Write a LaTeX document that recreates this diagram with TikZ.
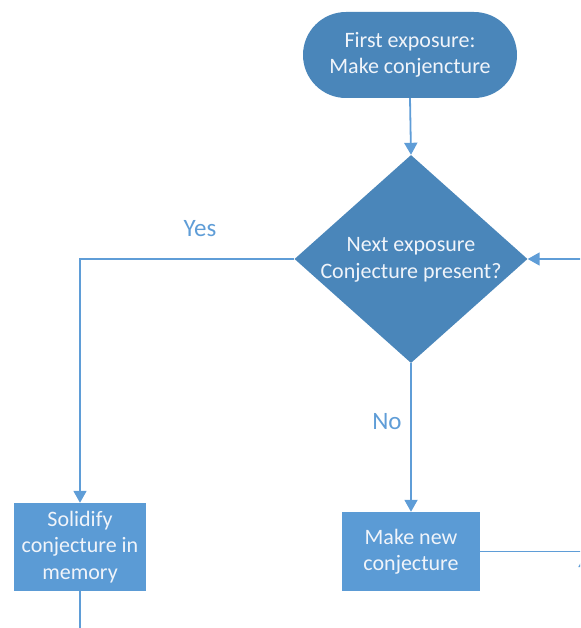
\documentclass[tikz,border=0pt]{standalone}
\usepackage{fontspec}
\setmainfont{Carlito}
\usetikzlibrary{arrows.meta,shapes.geometric}
\definecolor{darkfill}{RGB}{74,134,186}
\definecolor{lightfill}{RGB}{91,155,213}
\definecolor{linec}{RGB}{95,157,215}
\definecolor{txtc}{RGB}{240,244,250}
\begin{document}
\begin{tikzpicture}[x=1pt,y=-1pt,
  nodetext/.style={font=\fontsize{22}{26.5}\selectfont, text=txtc, align=center},
  termbox/.style={nodetext, fill=darkfill, rounded corners=43pt, minimum width=214pt, minimum height=86pt, inner sep=0pt},
  decbox/.style={shape=diamond, fill=darkfill, minimum width=233pt, minimum height=208pt, inner sep=0pt},
  procbox/.style={nodetext, fill=lightfill, inner sep=0pt},
  conn/.style={draw=linec, line width=1.8pt, -{Triangle[length=12pt,width=13pt]}},
  plain/.style={draw=linec, line width=1.8pt},
  lbl/.style={font=\fontsize{25}{29}\selectfont, text=linec}
]
\clip (0,0) rectangle (580,628);
\useasboundingbox (0,0) rectangle (580,628);

\node[termbox] (t) at (410,55) {First exposure:\\Make conjencture};
\node[decbox] (d) at (411,259) {};
\node[nodetext] (dt) at (411,260) {Next exposure\\Conjecture present?};
\node[procbox, minimum width=132pt, minimum height=88pt] (s) at (80,547) {Solidify\\conjecture in\\memory};
\node[procbox, minimum width=138pt, minimum height=79pt] (m) at (411,551.5) {Make new\\conjecture};

\coordinate (sout) at (80,640);
\coordinate (mout) at (600,551.5);
\coordinate (rin) at (600,259);
\coordinate (bin) at (585,620);
\coordinate (bend) at (585,555);

\draw[conn] (t.south) -- (d.north);
\draw[conn] (d.west) -| (s.north);
\draw[conn] (d.south) -- (m.north);
\draw[plain] (s.south) -- (sout);
\draw[plain] (m.east) -- (mout);
\draw[conn] (rin) -- (d.east);
\draw[conn] (bin) -- (bend);

\node[lbl] (yes) at (200,229) {Yes};
\node[lbl] (no) at (387,422) {No};
\end{tikzpicture}
\end{document}
